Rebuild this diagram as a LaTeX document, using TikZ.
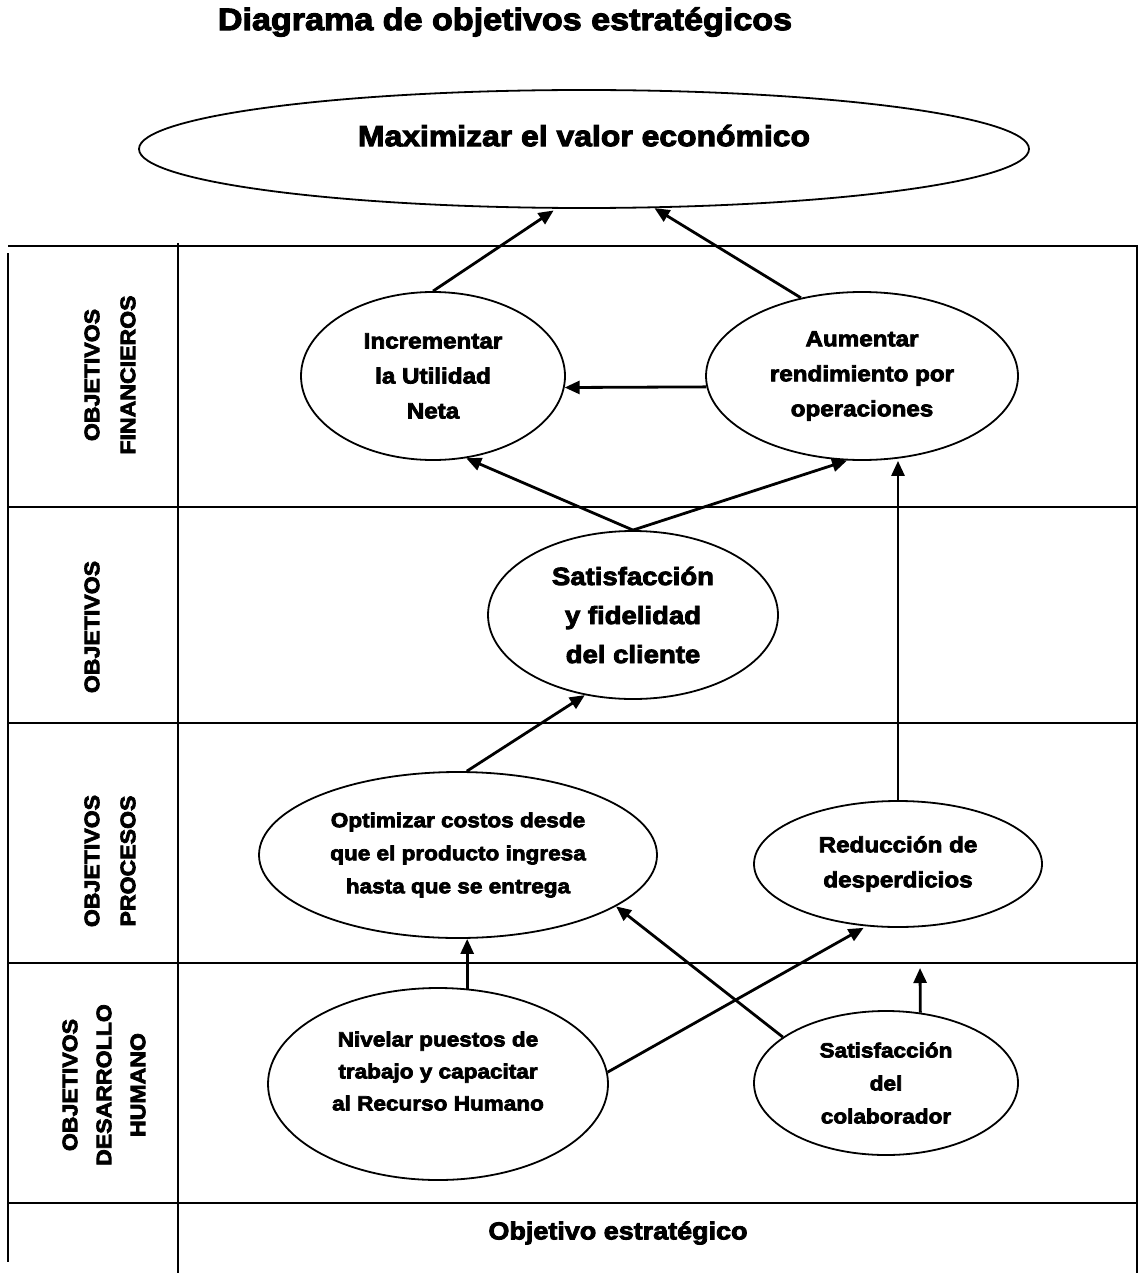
\documentclass[tikz,border=0pt]{standalone}
\usepackage{fontspec}
\setmainfont{Liberation Sans}[FakeStretch=1.1,FakeBold=3.5]
\usetikzlibrary{arrows.meta,shapes.geometric}

\newcommand{\sz}[2]{\bfseries\fontsize{#1}{#2}\selectfont}

\begin{document}
\begin{tikzpicture}[x=1pt,y=-1pt,>={Triangle[length=15pt,width=13pt]},
  goal/.style={ellipse,draw,line width=1.8pt,inner sep=0pt,align=center,font=\sz{22}{35}},
  row label/.style={rotate=90,align=center,font=\sz{21}{36}},
  grid line/.style={line width=1.6pt},
  link/.style={->,line width=2.8pt}]

  \useasboundingbox (0,0) rectangle (1138,1273);

  \draw[grid line] (8,246) -- (1137,246) -- (1137,1273);
  \draw[grid line] (8,253) -- (8,1262);
  \draw[grid line] (178,243) -- (178,1273);
  \foreach \y in {507,723,963,1203}
    \draw[grid line] (8,\y) -- (1137,\y);

  \node[font=\sz{31}{36}] (titulo) at (505,22) {Diagrama de objetivos estratégicos};

  \node[goal,minimum width=890pt,minimum height=118pt,font=\sz{29}{35},text depth=27pt] (valor) at (584,149) {Maximizar el valor económico};
  \node[goal,minimum width=264pt,minimum height=168pt] (utilidad) at (433,376) {Incrementar\\la Utilidad\\Neta};
  \node[goal,minimum width=312pt,minimum height=168pt] (rend) at (862,376) {Aumentar\\rendimiento por\\operaciones};
  \node[goal,minimum width=290pt,minimum height=168pt,font=\sz{25}{39}] (cliente) at (633,615) {Satisfacción\\y fidelidad\\del cliente};
  \node[goal,minimum width=398pt,minimum height=166pt,font=\sz{20.5}{33}] (costos) at (458,855) {Optimizar costos desde\\que el producto ingresa\\hasta que se entrega};
  \node[goal,minimum width=288pt,minimum height=126pt] (desp) at (898,864) {Reducción de\\desperdicios};
  \node[goal,minimum width=340pt,minimum height=192pt,font=\sz{20.5}{32},text depth=26pt] (nivelar) at (438,1084) {Nivelar puestos de\\trabajo y capacitar\\al Recurso Humano};
  \node[goal,minimum width=264pt,minimum height=144pt,font=\sz{20.5}{33}] (colab) at (886,1083) {Satisfacción\\del\\colaborador};
  \coordinate (colfree) at (920,968);

  \node[row label] (fin) at (110,375) {OBJETIVOS\\FINANCIEROS};
  \node[row label] (cli) at (92,627) {OBJETIVOS};
  \node[row label] (pro) at (110,861) {OBJETIVOS\\PROCESOS};
  \node[row label,font=\sz{21}{34}] (hum) at (104,1085) {OBJETIVOS\\DESARROLLO\\HUMANO};
  \node[font=\sz{24.5}{30}] (estr) at (618,1233) {Objetivo estratégico};

  \path[link]
    (utilidad.north) edge[shorten >=3pt] (valor.245)
    (rend.128) edge (valor.320)
    (rend.184) edge (utilidad.355)
    (cliente.north) edge (utilidad.292)
                    edge (rend.260)
    (costos.84) edge (cliente.239)
    (desp.north) edge (desp.north |- rend.south)
    (nivelar.73) edge (nivelar.73 |- costos.south)
    (nivelar.4) edge[shorten >=3pt] (desp.243)
    (colab.156) edge (costos.342)
    (colab.64) edge (colfree);
\end{tikzpicture}
\end{document}
